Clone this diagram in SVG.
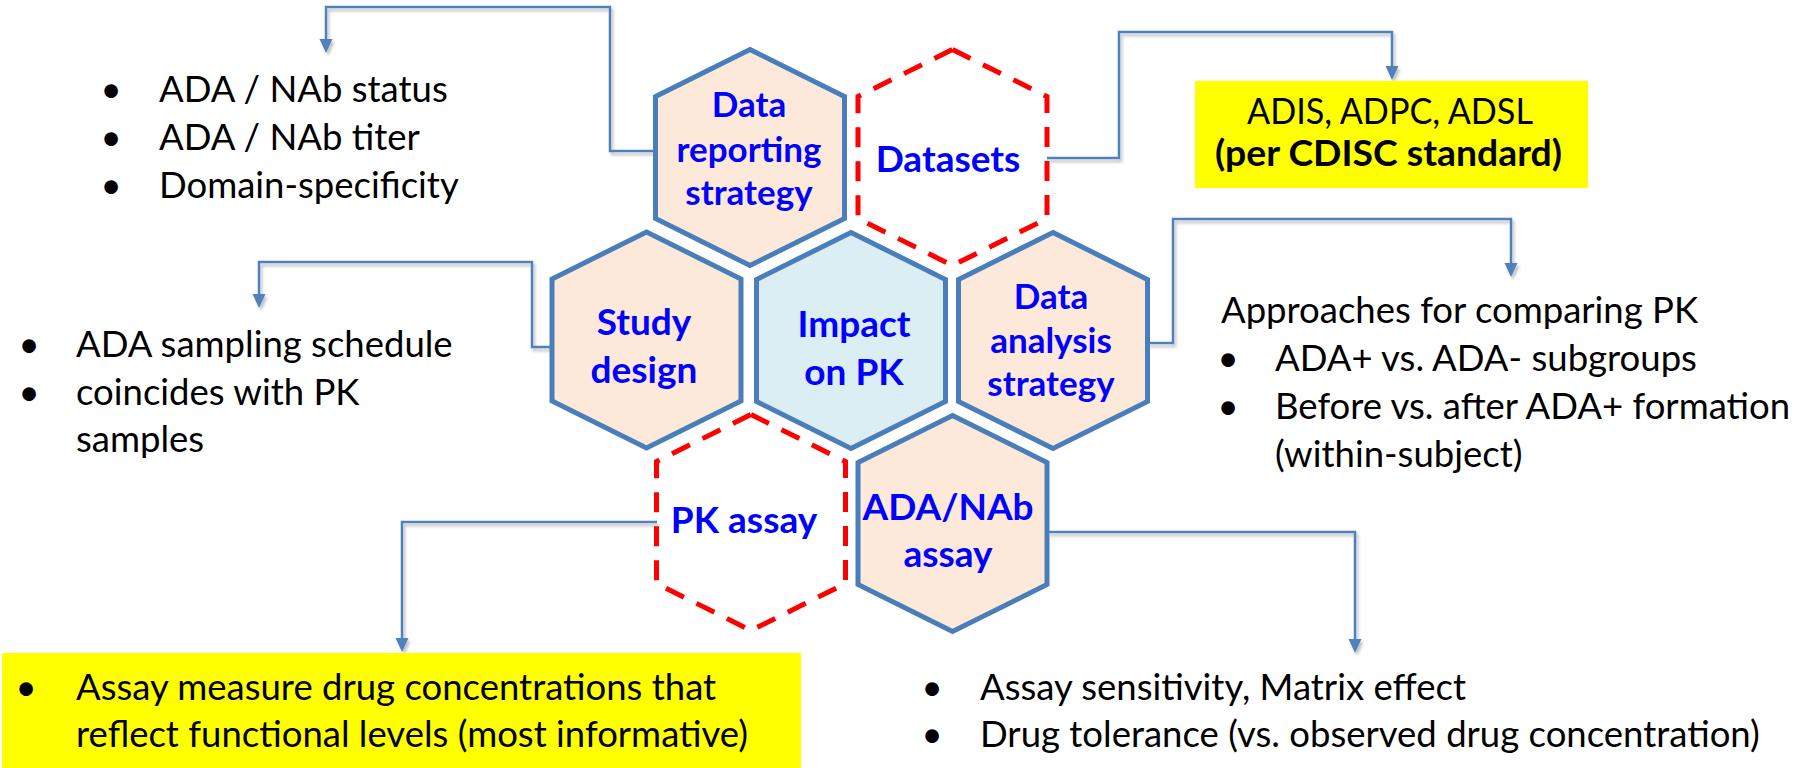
<svg xmlns="http://www.w3.org/2000/svg" xmlns:xlink="http://www.w3.org/1999/xlink" width="1797" height="768" viewBox="0 0 1797 768">
<style>
.hexs{fill:#FDE9D9;stroke:#4A7EBB;stroke-width:5;stroke-linejoin:miter}
.hexc{fill:#DBEEF4;stroke:#4A7EBB;stroke-width:5}
.hexd{fill:none;stroke:#FF0000;stroke-width:5;stroke-dasharray:20 14}
.lbl{font-family:Lato,"Liberation Sans",sans-serif;font-weight:bold;fill:#0000FF;text-anchor:middle}
.l36{font-size:35px}
.l39{font-size:37px}
.body{font-family:Lato,"Liberation Sans",sans-serif;font-size:36.5px;fill:#000}
.bul{font-family:Lato,"Liberation Sans",sans-serif;font-size:36.5px;fill:#000;text-anchor:middle}
.conn{fill:none;stroke:#4F81BD;stroke-width:2.5;marker-end:url(#arr)}
</style>
<defs>
<polygon id="hex" points="0,-108 94.5,-61 94.5,61 0,108 -94.5,61 -94.5,-61"/>
<marker id="arr" markerUnits="userSpaceOnUse" markerWidth="15" markerHeight="14" refX="4" refY="7" orient="auto">
<path d="M0,0.5 L14,7 L0,13.5 z" fill="#4F81BD"/>
</marker>
<filter id="sh" x="-5%" y="-5%" width="110%" height="110%">
<feDropShadow dx="2" dy="3" stdDeviation="1.5" flood-color="#000" flood-opacity="0.25"/>
</filter>
</defs>
<rect width="1797" height="768" fill="#fff"/>

<g id="connectors" filter="url(#sh)">
<path class="conn" d="M655,151 H610 V7 H326 V43"/>
<path class="conn" d="M1047,158 H1119 V32 H1392 V70"/>
<path class="conn" d="M552,347 H532 V262 H259 V298"/>
<path class="conn" d="M1147,343 H1173 V219 H1511 V267"/>
<path class="conn" d="M657,522 H402 V642"/>
<path class="conn" d="M1047,532 H1355 V643"/>
</g>

<g id="data-reporting-strategy">
<use xlink:href="#hex" class="hexs" x="750" y="157.5"/>
<text class="lbl l36" x="749" y="117">Data</text>
<text class="lbl l36" x="749" y="162">reporting</text>
<text class="lbl l36" x="749" y="205">strategy</text>
</g>

<g id="datasets">
<use xlink:href="#hex" class="hexd" x="952.5" y="157.5"/>
<text class="lbl l39" x="948" y="172">Datasets</text>
</g>

<g id="study-design">
<use xlink:href="#hex" class="hexs" x="646.5" y="340"/>
<text class="lbl l39" x="644" y="335">Study</text>
<text class="lbl l39" x="644" y="383">design</text>
</g>

<g id="impact-on-pk">
<use xlink:href="#hex" class="hexc" x="851" y="340.5"/>
<text class="lbl l39" x="854" y="337">Impact</text>
<text class="lbl l39" x="854" y="385">on PK</text>
</g>

<g id="data-analysis-strategy">
<use xlink:href="#hex" class="hexs" x="1053" y="340.5"/>
<text class="lbl l36" x="1051" y="309">Data</text>
<text class="lbl l36" x="1051" y="353">analysis</text>
<text class="lbl l36" x="1051" y="396">strategy</text>
</g>

<g id="pk-assay">
<use xlink:href="#hex" class="hexd" x="751" y="522.5"/>
<text class="lbl l39" x="744" y="533">PK assay</text>
</g>

<g id="ada-nab-assay">
<use xlink:href="#hex" class="hexs" x="952.5" y="523.5"/>
<text class="lbl l39" x="948" y="520">ADA/NAb</text>
<text class="lbl l39" x="948" y="567">assay</text>
</g>

<g id="reporting-list">
<text class="bul" x="111" y="102">•</text>
<text class="bul" x="111" y="150">•</text>
<text class="bul" x="111" y="198">•</text>
<text class="body" x="159" y="102">ADA / NAb status</text>
<text class="body" x="159" y="150">ADA / NAb titer</text>
<text class="body" x="159" y="198">Domain-specificity</text>
</g>

<g id="datasets-box">
<rect x="1195" y="81" width="393" height="107" fill="#FFFF00"/>
<text class="body" x="1247" y="124" textLength="286" lengthAdjust="spacingAndGlyphs">ADIS, ADPC, ADSL</text>
<text class="body" x="1215" y="166" font-weight="bold" textLength="347" lengthAdjust="spacingAndGlyphs">(per CDISC standard)</text>
</g>

<g id="study-list">
<text class="bul" x="29" y="357">•</text>
<text class="bul" x="29" y="405">•</text>
<text class="body" x="76" y="357">ADA sampling schedule</text>
<text class="body" x="76" y="405">coincides with PK</text>
<text class="body" x="76" y="452">samples</text>
</g>

<g id="analysis-list">
<text class="body" x="1221" y="323">Approaches for comparing PK</text>
<text class="bul" x="1228" y="371">•</text>
<text class="bul" x="1228" y="419">•</text>
<text class="body" x="1275" y="371">ADA+ vs. ADA- subgroups</text>
<text class="body" x="1275" y="419">Before vs. after ADA+ formation</text>
<text class="body" x="1275" y="467">(within-subject)</text>
</g>

<g id="pk-assay-box">
<rect x="2" y="653" width="799" height="115" fill="#FFFF00"/>
<text class="bul" x="26" y="700">•</text>
<text class="body" x="76" y="700">Assay measure drug concentrations that</text>
<text class="body" x="76" y="747">reflect functional levels (most informative)</text>
</g>

<g id="ada-assay-list">
<text class="bul" x="932" y="700">•</text>
<text class="bul" x="932" y="747">•</text>
<text class="body" x="980" y="700">Assay sensitivity, Matrix effect</text>
<text class="body" x="980" y="747">Drug tolerance (vs. observed drug concentration)</text>
</g>
</svg>
